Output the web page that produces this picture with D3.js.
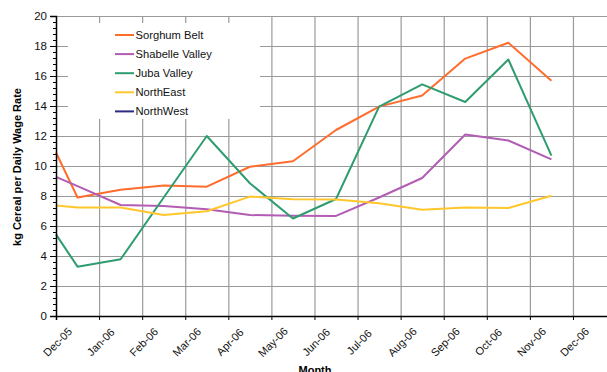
<!DOCTYPE html>
<html>
<head>
<meta charset="utf-8">
<script src="https://cdn.jsdelivr.net/npm/d3@7"></script>
<style>
  html, body { margin: 0; padding: 0; background: #fff; }
  svg { display: block; font-family: "Liberation Sans", Arial, sans-serif; }
</style>
</head>
<body>
<svg id="chart" width="607" height="372"></svg>
<script>
// Month labels on the x axis (one per tick, at the start of each month)
const monthLabels = ["Dec-05", "Jan-06", "Feb-06", "Mar-06", "Apr-06", "May-06", "Jun-06",
                     "Jul-06", "Aug-06", "Sep-06", "Oct-06", "Nov-06", "Dec-06"];
// Position of each observation, in months from the start of Dec-05
const obsPosition = [0, 0.5, 1.5, 2.5, 3.5, 4.5, 5.5, 6.5, 7.5, 8.5, 9.5, 10.5, 11.5];

// kg of cereal purchasable with one daily wage, by region
const sorghumBelt    = [10.9, 7.9, 8.42, 8.7, 8.62, 9.95, 10.32, 12.4, 13.96, 14.7, 17.16, 18.22, 15.68];
const shabelleValley = [9.27, 8.66, 7.4, 7.33, 7.11, 6.73, 6.69, 6.67, 7.9, 9.2, 12.1, 11.7, 10.44];
const jubaValley     = [5.44, 3.29, 3.78, 7.9, 12.0, 8.85, 6.5, 7.8, 13.96, 15.44, 14.27, 17.1, 10.69];
const northEast      = [7.36, 7.24, 7.24, 6.73, 6.98, 7.96, 7.78, 7.76, 7.51, 7.09, 7.24, 7.2, 8.02];
const northWest      = [];

const seriesNames  = ["Sorghum Belt", "Shabelle Valley", "Juba Valley", "NorthEast", "NorthWest"];
const seriesValues = [sorghumBelt, shabelleValley, jubaValley, northEast, northWest];
const seriesColors = ["#ff6d2d", "#b25cb4", "#2f9c6f", "#ffc72c", "#2b2b84"];

const yTicks = [0, 2, 4, 6, 8, 10, 12, 14, 16, 18, 20];

const svg = d3.select("#chart");
const plotLeft = 56, plotTop = 16, plotBottom = 316;
const monthWidth = 43.08;

const x = d3.scaleLinear().domain([0, 13]).range([plotLeft, plotLeft + 13 * monthWidth]);
const y = d3.scaleLinear().domain([0, 20]).range([plotBottom, plotTop]);
const plotRight = x(13);

// Grid
const grid = svg.append("g").attr("class", "grid");
grid.append("g")
  .attr("transform", `translate(${plotLeft},0)`)
  .call(d3.axisLeft(y).tickValues(yTicks.slice(1)).tickSize(-(plotRight - plotLeft)).tickFormat(""))
  .call(g => g.select(".domain").remove())
  .call(g => g.selectAll("line").attr("stroke", "#9a9a9a").attr("stroke-width", 1.2));
grid.append("g")
  .attr("transform", `translate(0,${plotTop})`)
  .call(d3.axisTop(x).tickValues(d3.range(1, 13)).tickSize(-(plotBottom - plotTop)).tickFormat(""))
  .call(g => g.select(".domain").remove())
  .call(g => g.selectAll("line").attr("stroke", "#9a9a9a").attr("stroke-width", 1.2));

// Legend background sits over the grid
svg.append("rect")
  .attr("x", 68).attr("y", 23).attr("width", 192).attr("height", 96)
  .attr("fill", "#fff");

// Series lines
const line = d3.line()
  .x((d, i) => x(obsPosition[i]))
  .y(d => y(d));
seriesValues.forEach((vals, k) => {
  if (!vals.length) return;
  svg.append("path")
    .datum(vals)
    .attr("fill", "none")
    .attr("stroke", seriesColors[k])
    .attr("stroke-width", 2)
    .attr("stroke-linejoin", "round")
    .attr("d", line);
});

// Y axis: minor ticks, then major ticks with labels
svg.append("g")
  .attr("transform", `translate(${plotLeft},0)`)
  .call(d3.axisLeft(y).tickValues(d3.range(0, 20.01, 0.4)).tickSize(3).tickFormat(""))
  .call(g => g.select(".domain").remove())
  .call(g => g.selectAll("line").attr("stroke", "#000"));
svg.append("g")
  .attr("transform", `translate(${plotLeft},0)`)
  .call(d3.axisLeft(y).tickValues(yTicks).tickSize(6).tickPadding(3).tickFormat(d3.format("d")))
  .call(g => g.select(".domain").attr("stroke", "#000").attr("stroke-width", 1.5))
  .call(g => g.selectAll("line").attr("stroke", "#000"))
  .call(g => g.selectAll("text").attr("font-size", 11.5).attr("fill", "#111")
                .attr("font-family", "Liberation Sans, Arial, sans-serif"));

// X axis
const xAxis = svg.append("g")
  .attr("transform", `translate(0,${plotBottom})`)
  .call(d3.axisBottom(x).tickValues(d3.range(0, 13)).tickSize(4).tickFormat(i => monthLabels[i]));
xAxis.select(".domain").attr("stroke", "#000").attr("stroke-width", 1.5);
xAxis.selectAll("line").attr("stroke", "#000");
xAxis.selectAll("text")
  .attr("font-size", 11)
  .attr("fill", "#111")
  .attr("font-family", "Liberation Sans, Arial, sans-serif")
  .attr("text-anchor", "middle")
  .attr("dominant-baseline", "central")
  .attr("x", 0).attr("y", 0).attr("dy", null)
  .attr("transform", "translate(1,26) rotate(-45)");

// Axis titles
svg.append("text")
  .attr("transform", `translate(21,167) rotate(-90)`)
  .attr("text-anchor", "middle")
  .attr("font-size", 11)
  .attr("font-weight", "bold")
  .text("kg Cereal per Daily Wage Rate");
svg.append("text")
  .attr("x", 315).attr("y", 374)
  .attr("text-anchor", "middle")
  .attr("font-size", 11)
  .attr("font-weight", "bold")
  .text("Month");

// Legend
const legend = svg.append("g").attr("transform", "translate(115,35)");
seriesNames.forEach((name, k) => {
  const row = legend.append("g").attr("transform", `translate(0,${k * 19.1})`);
  row.append("line")
    .attr("x1", 0).attr("x2", 19).attr("y1", 0).attr("y2", 0)
    .attr("stroke", seriesColors[k]).attr("stroke-width", 2);
  row.append("text")
    .attr("x", 20.5).attr("y", 0)
    .attr("dominant-baseline", "central")
    .attr("font-size", 11.2)
    .attr("fill", "#111")
    .text(name);
});
</script>
</body>
</html>
